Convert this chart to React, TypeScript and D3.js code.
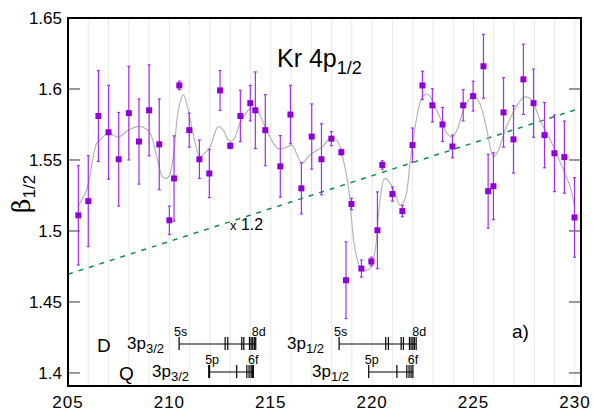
import React from "react";
import * as d3 from "d3";

// measured points: photon energy, beta, error
const energy = [
  205.51, 206.0, 206.5, 207.0, 207.5, 208.0, 208.5, 209.0, 209.5, 210.0,
  210.23, 210.49, 210.98, 211.48, 211.97, 212.5, 213.0, 213.5, 213.99, 214.24,
  214.73, 215.47, 215.97, 216.51, 217.02, 217.5, 217.99, 218.48, 218.71, 218.98,
  219.47, 219.96, 220.26, 220.5, 221.0, 221.49, 221.99, 222.48, 222.97, 223.47,
  223.96, 224.49, 224.98, 225.49, 225.72, 225.98, 226.48, 226.97, 227.46, 227.96,
  228.5, 228.99, 229.48, 229.98,
];
const beta = [
  1.511, 1.521, 1.581, 1.5695, 1.5505, 1.583, 1.563, 1.585, 1.561, 1.5075,
  1.537, 1.6025, 1.571, 1.5505, 1.5405, 1.599, 1.56, 1.581, 1.59, 1.585,
  1.571, 1.5455, 1.582, 1.53, 1.5665, 1.5505, 1.565, 1.5555, 1.4653, 1.519,
  1.4735, 1.4785, 1.5005, 1.5465, 1.526, 1.514, 1.5605, 1.6025, 1.5885, 1.575,
  1.5595, 1.5885, 1.595, 1.616, 1.528, 1.5315, 1.5835, 1.5645, 1.6068, 1.59,
  1.5675, 1.5547, 1.552, 1.5095,
];
const betaErr = [
  0.035, 0.032, 0.032, 0.033, 0.033, 0.033, 0.03, 0.032, 0.032, 0.01,
  0.03, 0.003, 0.012, 0.0135, 0.017, 0.014, 0.002, 0.018, 0.0125, 0.027,
  0.025, 0.0217, 0.0205, 0.018, 0.023, 0.025, 0.005, 0.002, 0.027, 0.004,
  0.006, 0.003, 0.027, 0.003, 0.005, 0.004, 0.012, 0.01, 0.0117, 0.012,
  0.008, 0.011, 0.0105, 0.0225, 0.026, 0.0235, 0.0244, 0.0237, 0.0247, 0.024,
  0.023, 0.027, 0.0254, 0.028,
];

// smooth grey curve
const fitE = [
  205.48, 205.92, 206.42, 206.58, 206.99, 207.48, 207.97, 208.47, 208.71, 209.05,
  209.38, 209.7, 209.95, 210.19, 210.44, 210.69, 210.93, 211.27, 211.51, 211.76,
  212.0, 212.41, 212.66, 212.91, 213.15, 213.49, 213.98, 214.31, 214.64, 214.97,
  215.37, 215.79, 216.04, 216.53, 216.94, 217.52, 218.01, 218.34, 218.58, 218.83,
  219.16, 219.49, 219.9, 220.15, 220.39, 220.62, 220.89, 221.13, 221.38, 221.63,
  221.87, 222.12, 222.45, 222.7, 222.86, 223.1, 223.44, 223.68, 223.93, 224.18,
  224.5, 224.83, 225.08, 225.33, 225.66, 225.9, 226.02, 226.23, 226.56, 226.97,
  227.46, 227.71, 227.95, 228.28, 228.62, 229.02, 229.43, 229.77, 229.98,
];
const fitB = [
  1.517, 1.529, 1.562, 1.564, 1.569, 1.566, 1.571, 1.5735, 1.573, 1.569,
  1.552, 1.5375, 1.538, 1.552, 1.585, 1.596, 1.585, 1.562, 1.552, 1.555,
  1.559, 1.5735, 1.571, 1.564, 1.564, 1.576, 1.586, 1.585, 1.576, 1.566,
  1.558, 1.559, 1.5606, 1.548, 1.5535, 1.559, 1.566, 1.562, 1.55, 1.531,
  1.487, 1.4725, 1.4737, 1.4866, 1.522, 1.537, 1.5336, 1.5265, 1.518, 1.523,
  1.548, 1.5735, 1.5935, 1.5965, 1.5946, 1.5875, 1.577, 1.569, 1.566, 1.571,
  1.585, 1.5935, 1.5946, 1.589, 1.571, 1.5547, 1.5524, 1.557, 1.571, 1.584,
  1.594, 1.594, 1.59, 1.578, 1.569, 1.557, 1.543, 1.531, 1.517,
];

// dashed "x 1.2" line
const trendE = [205, 230.3];
const trendB = [1.4695, 1.5866];

const xTicks = [205, 210, 215, 220, 225, 230];
const yTicks = [1.4, 1.45, 1.5, 1.55, 1.6, 1.65];
const yTickLabels = ["1.4", "1.45", "1.5", "1.55", "1.6", "1.65"];

// Rydberg level positions
const dLevels32 = [210.48, 212.75, 212.88, 213.57, 213.67, 213.95, 214.03, 214.11, 214.19, 214.26];
const dLevels12 = [218.37, 220.67, 220.8, 221.43, 221.54, 221.84, 221.92, 222.01, 222.08, 222.17];
const qLevels32 = [211.96, 213.32, 213.82, 213.93, 214.03, 214.09, 214.14];
const qLevels12 = [219.83, 221.22, 221.71, 221.82, 221.92, 222.01];

const W = 593;
const H = 412;
const left = 68;
const right = 581;
const top = 18;
const bottom = 386;
const font = "'Liberation Sans', Arial, Helvetica, sans-serif";
const purple = "#9000d8";
const barPurple = "#a52cf0";

function Series({ levels, y, x0, first, last, firstLabel, lastLabel, thickFirst }) {
  return (
    <g>
      <line x1={x0(levels[0])} x2={x0(levels[levels.length - 1])} y1={y} y2={y} stroke="#000" strokeWidth={1} />
      {levels.map((e, i) => (
        <line
          key={i}
          x1={x0(e)}
          x2={x0(e)}
          y1={y - 7}
          y2={y + 6}
          stroke="#000"
          strokeWidth={i === 0 && thickFirst ? 2 : 1.2}
        />
      ))}
      <text x={x0(levels[0]) + first} y={y - 8} fontSize={12.5} fontFamily={font}>{firstLabel}</text>
      <text x={x0(levels[levels.length - 1]) + last} y={y - 8} fontSize={12.5} fontFamily={font} textAnchor="middle">{lastLabel}</text>
    </g>
  );
}

export default function App() {
  const x = d3.scaleLinear().domain([205, 230.3]).range([left, right]);
  const y = d3.scaleLinear().domain([1.3908, 1.65]).range([bottom, top]);

  const fitLine = d3
    .line<number>()
    .x((d, i) => x(fitE[i]))
    .y((d) => y(d))
    .curve(d3.curveCatmullRom);

  const gridE = d3.range(205, 231, 1);

  return (
    <svg width={W} height={H} style={{ position: "absolute", left: 0, top: 0, background: "#fff" }}>
      {/* grid */}
      {gridE.map((e) => (
        <line key={e} x1={x(e)} x2={x(e)} y1={top} y2={bottom} stroke="#e9e9e9" strokeWidth={1} />
      ))}
      {/* y ticks */}
      {yTicks.map((t) => (
        <g key={t}>
          <line x1={left} x2={left + 12} y1={y(t)} y2={y(t)} stroke="#555" strokeWidth={1.2} />
          <line x1={right - 12} x2={right} y1={y(t)} y2={y(t)} stroke="#555" strokeWidth={1.2} />
        </g>
      ))}
      {yTicks.map((t, i) => (
        <text key={t} x={62} y={y(t) + 6} textAnchor="end" fontSize={17} fontFamily={font}>
          {yTickLabels[i]}
        </text>
      ))}
      {xTicks.map((t) => (
        <text key={t} x={x(t)} y={408} textAnchor="middle" fontSize={17} fontFamily={font} letterSpacing={1}>
          {t}
        </text>
      ))}

      {/* trend */}
      <line
        x1={x(trendE[0])}
        y1={y(trendB[0])}
        x2={x(trendE[1])}
        y2={y(trendB[1])}
        stroke="#138a4e"
        strokeWidth={1.5}
        strokeDasharray="5,6"
      />

      {/* fit */}
      <path d={fitLine(fitB) || ""} fill="none" stroke="#b0b0b0" strokeWidth={1.1} />

      {/* error bars */}
      {energy.map((e, i) => {
        const cx = x(e);
        const y1 = y(beta[i] + betaErr[i]);
        const y2 = y(beta[i] - betaErr[i]);
        return (
          <g key={i} stroke={barPurple} strokeWidth={1.2}>
            <line x1={cx} x2={cx} y1={y1} y2={y2} />
            <line x1={cx - 1.5} x2={cx + 1.5} y1={y1} y2={y1} />
            <line x1={cx - 1.5} x2={cx + 1.5} y1={y2} y2={y2} />
          </g>
        );
      })}
      {energy.map((e, i) => (
        <rect key={i} x={x(e) - 3} y={y(beta[i]) - 3} width={6} height={6} fill={purple} />
      ))}

      {/* frame */}
      <rect x={left} y={top} width={right - left} height={bottom - top} fill="none" stroke="#000" strokeWidth={2} />

      {/* titles */}
      <text x={277} y={67} fontSize={25} fontFamily={font}>
        Kr 4p
        <tspan fontSize={18} dy={6.5}>1/2</tspan>
      </text>
      <text x={230} y={230} fontSize={16} fontFamily={font}>
        <tspan fontSize={13}>x</tspan> 1.2
      </text>
      <text x={512} y={338} fontSize={19} fontFamily={font}>a)</text>
      <text transform="translate(30,213) rotate(-90)" fontSize={25} fontFamily="'DejaVu Serif', 'Liberation Serif', serif">
        β<tspan fontSize={17} dy={5} fontFamily={font}>1/2</tspan>
      </text>

      {/* Rydberg series */}
      <text x={97} y={352} fontSize={19} fontFamily={font}>D</text>
      <text x={119} y={380} fontSize={19} fontFamily={font}>Q</text>
      <text x={127} y={349} fontSize={17} fontFamily={font}>
        3p<tspan fontSize={13} dy={4}>3/2</tspan>
      </text>
      <text x={152} y={377} fontSize={17} fontFamily={font}>
        3p<tspan fontSize={13} dy={4}>3/2</tspan>
      </text>
      <text x={287} y={349} fontSize={17} fontFamily={font}>
        3p<tspan fontSize={13} dy={4}>1/2</tspan>
      </text>
      <text x={312} y={377} fontSize={17} fontFamily={font}>
        3p<tspan fontSize={13} dy={4}>1/2</tspan>
      </text>
      <Series levels={dLevels32} y={344} x0={x} first={-5} last={3} firstLabel="5s" lastLabel="8d" thickFirst={false} />
      <Series levels={dLevels12} y={344} x0={x} first={-5} last={3} firstLabel="5s" lastLabel="8d" thickFirst={false} />
      <Series levels={qLevels32} y={372} x0={x} first={-4} last={0} firstLabel="5p" lastLabel="6f" thickFirst={true} />
      <Series levels={qLevels12} y={372} x0={x} first={-4} last={0} firstLabel="5p" lastLabel="6f" thickFirst={false} />
    </svg>
  );
}
